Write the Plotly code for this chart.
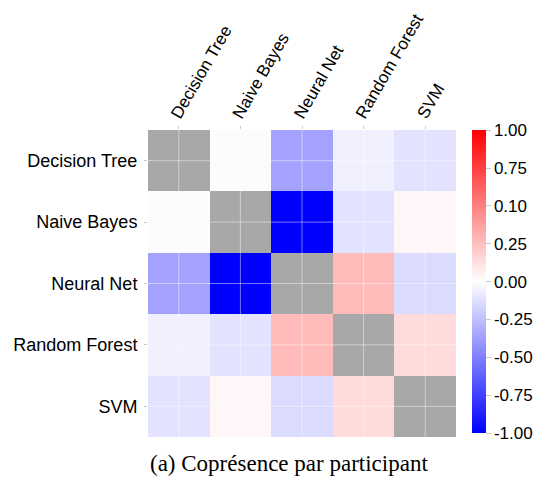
import numpy as np
import plotly.graph_objects as go

models = ["Decision Tree", "Naive Bayes", "Neural Net", "Random Forest", "SVM"]
# upper-triangle pairwise values (symmetric matrix)
pair_values = {
    ("Decision Tree", "Naive Bayes"): -0.01,
    ("Decision Tree", "Neural Net"): -0.36,
    ("Decision Tree", "Random Forest"): -0.06,
    ("Decision Tree", "SVM"): -0.11,
    ("Naive Bayes", "Neural Net"): -1.00,
    ("Naive Bayes", "Random Forest"): -0.11,
    ("Naive Bayes", "SVM"): 0.03,
    ("Neural Net", "Random Forest"): 0.27,
    ("Neural Net", "SVM"): -0.14,
    ("Random Forest", "SVM"): 0.14,
}
cbar_tickvals = [1.0, 0.75, 0.5, 0.25, 0.0, -0.25, -0.5, -0.75, -1.0]
cbar_ticktext = ["1.00", "0.75", "0.10", "0.25", "0.00", "-0.25", "-0.50", "-0.75", "-1.00"]
caption = "(a) Coprésence par participant"

n = len(models)
z = np.full((n, n), np.nan)
for (a, b), v in pair_values.items():
    i, j = models.index(a), models.index(b)
    z[i, j] = v
    z[j, i] = v
diag = np.full((n, n), np.nan)
for i in range(n):
    diag[i, i] = 1.0

sans = "Liberation Sans"
fig = go.Figure()
fig.add_trace(go.Heatmap(
    z=z, x=models, y=models,
    colorscale=[[0, "rgb(0,0,255)"], [0.5, "rgb(255,255,255)"], [1, "rgb(255,0,0)"]],
    zmin=-1, zmax=1,
    colorbar=dict(
        tickvals=cbar_tickvals, ticktext=cbar_ticktext,
        x=1.052, xanchor="left", xref="paper", xpad=0, ypad=0,
        y=0.506, yanchor="middle", len=0.987, lenmode="fraction",
        thickness=14, outlinewidth=0,
        ticks="outside", ticklen=5, tickcolor="#c8c8c8",
        tickfont=dict(family=sans, size=17, color="black"),
    ),
    hoverongaps=False,
))
fig.add_trace(go.Heatmap(
    z=diag, x=models, y=models,
    colorscale=[[0, "#a8a8a8"], [1, "#a8a8a8"]],
    showscale=False, hoverongaps=False,
))

# light grid lines through cell centres, drawn above the cells
for m in models:
    fig.add_shape(type="line", xref="x", yref="paper", x0=m, x1=m, y0=0, y1=1,
                  line=dict(color="rgba(255,255,255,0.45)", width=1), layer="above")
    fig.add_shape(type="line", xref="paper", yref="y", x0=0, x1=1, y0=m, y1=m,
                  line=dict(color="rgba(255,255,255,0.45)", width=1), layer="above")

fig.update_xaxes(
    side="top", tickangle=-60, showgrid=False, automargin=False,
    ticks="outside", ticklen=3, tickcolor="#c8c8c8",
    tickfont=dict(family=sans, size=17, color="black"),
    ticklabelstandoff=-5, ticklabelshift=-6,
    showline=False, zeroline=False,
)
fig.update_yaxes(
    autorange="reversed", showgrid=False, automargin=False,
    ticks="outside", ticklen=3, tickcolor="#c8c8c8",
    tickfont=dict(family=sans, size=18, color="black"),
    ticklabelstandoff=3,
    showline=False, zeroline=False,
)

fig.add_annotation(
    text=caption, xref="paper", yref="paper", x=0.458, y=-0.085,
    xanchor="center", yanchor="middle", showarrow=False,
    font=dict(family="Liberation Serif", size=23, color="black"),
)

# page body has an 8px default margin, so the figure is sized to fit the window
fig.update_layout(
    width=534, height=473,
    margin=dict(l=140, r=86, t=122, b=44, autoexpand=False),
    plot_bgcolor="white", paper_bgcolor="white",
)

fig.write_html("out.html")
